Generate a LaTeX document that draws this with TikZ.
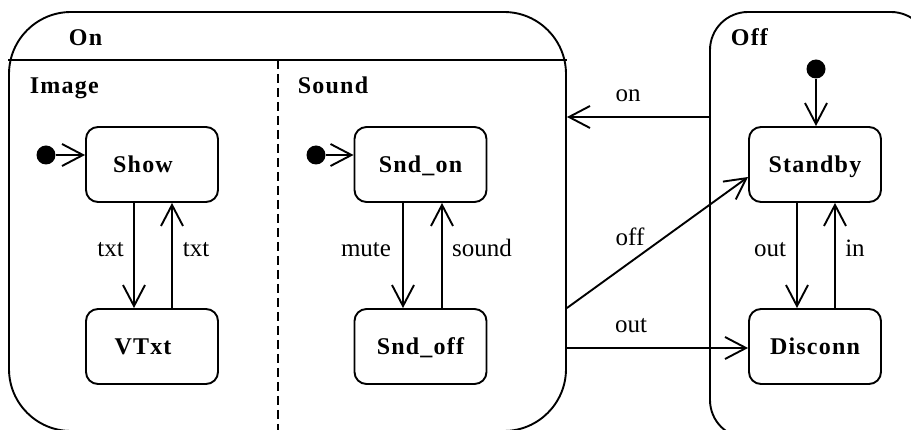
\documentclass[tikz,border=0pt]{standalone}
\usepackage{fontspec}
\setmainfont{Liberation Serif}
\usetikzlibrary{arrows.meta}
\begin{document}
\begin{tikzpicture}[x=1pt,y=-1pt,line width=1.9pt,
  big/.style={font=\fontsize{25}{29}\selectfont},
  bold/.style={font=\fontsize{24}{28}\selectfont\bfseries\addfontfeature{LetterSpace=5}},
  st/.style={draw,rounded corners=12pt,minimum width=132pt,minimum height=75pt,inner sep=0pt,
    bold,text height=16pt,text depth=0pt},
  region/.style={draw,inner sep=0pt},
  hdr/.style={bold,anchor=base west,inner sep=0pt},
  lbl/.style={big,anchor=base,inner sep=0pt},
  dot/.style={circle,fill,draw=none,minimum size=19pt,inner sep=0pt},
  arr/.style={-{Straight Barb[length=21pt,width=22pt]}}]
\useasboundingbox (0,0) rectangle (911,430);
\clip (0,0) rectangle (911,430);
% containers
\node[region,rounded corners=62pt,minimum width=557pt,minimum height=419pt] (on) at (287.5,221.5) {};
\node[region,rounded corners=38pt,minimum width=219pt,minimum height=426pt] (off) at (819.5,225) {};
\coordinate (hl) at (0,60);
\draw (on.west |- hl) -- (on.east |- hl);
\coordinate (dx) at (278,0);
\draw[dash pattern=on 9pt off 5pt] (dx |- hl) -- (dx |- on.south);
% headers
\node[hdr] (tOn) at (68,46) {On};
\node[hdr] (tImage) at (29,94) {Image};
\node[hdr] (tSound) at (297,94) {Sound};
\node[hdr] (tOff) at (730,46) {Off};
% states
\node[st] (show) at (152,164.5) {\hspace*{-18pt}Show};
\node[st] (vtxt) at (152,346.5) {\hspace*{-18pt}VTxt};
\node[st] (sndon) at (420.5,164.5) {Snd\_on};
\node[st] (sndoff) at (420.5,346.5) {Snd\_off};
\node[st] (standby) at (815,164.5) {Standby};
\node[st] (disconn) at (815,346.5) {Disconn};
% initial pseudo-states
\node[dot] (i1) at (46,155) {};
\node[dot] (i2) at (316,155) {};
\node[dot] (i3) at (816,69) {};
\draw[arr] (i1) -- (i1 -| show.west);
\draw[arr] (i2) -- (i2 -| sndon.west);
\draw[arr] (i3) -- (i3 |- standby.north);
% internal transitions
\draw[arr] ([xshift=-18pt]show.south) -- ([xshift=-18pt]vtxt.north);
\draw[arr] ([xshift=20pt]vtxt.north) -- ([xshift=20pt]show.south);
\draw[arr] ([xshift=-17.5pt]sndon.south) -- ([xshift=-17.5pt]sndoff.north);
\draw[arr] ([xshift=21.5pt]sndoff.north) -- ([xshift=21.5pt]sndon.south);
\draw[arr] ([xshift=-18pt]standby.south) -- ([xshift=-18pt]disconn.north);
\draw[arr] ([xshift=20pt]disconn.north) -- ([xshift=20pt]standby.south);
\node[lbl] (l1) at (110.5,257) {txt};
\node[lbl] (l2) at (196,257) {txt};
\node[lbl] (l3) at (366,257) {mute};
\node[lbl] (l4) at (482,257) {sound};
\node[lbl] (l5) at (770,257) {out};
\node[lbl] (l6) at (855,257) {in};
% external transitions
\coordinate (yon) at (0,117);
\coordinate (yoff) at (0,308);
\coordinate (yout) at (0,348);
\draw[arr] (off.west |- yon) -- (on.east |- yon);
\draw[arr] (on.east |- yoff) -- ([yshift=-12.5pt]standby.west);
\draw[arr] (on.east |- yout) -- (disconn.west |- yout);
\node[lbl] (l7) at (628,102) {on};
\node[lbl] (l8) at (630,246) {off};
\node[lbl] (l9) at (631,333) {out};
\end{tikzpicture}
\end{document}
